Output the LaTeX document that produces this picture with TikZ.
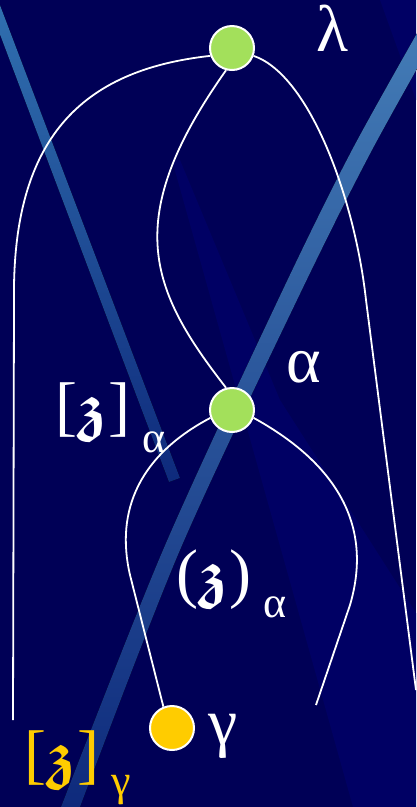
\documentclass[tikz,border=0pt]{standalone}
\usepackage{fontspec}
\setmainfont{Liberation Serif}
\DeclareFontFamily{U}{euf}{}
\DeclareFontShape{U}{euf}{b}{n}{<->eufb10}{}
\newcommand{\frakz}{{\usefont{U}{euf}{b}{n}z}}
\definecolor{bgnavy}{HTML}{000056}
\definecolor{bandnavy}{HTML}{000064}
\definecolor{streaktop}{HTML}{3070B0}
\definecolor{streakbot}{HTML}{0E2A7C}
\definecolor{vertgreen}{HTML}{A3E05B}
\definecolor{vertgold}{HTML}{FFCC00}
\tikzset{
	vertex/.style={circle, draw=white, line width=2pt, inner sep=0pt, minimum size=44pt},
	strand/.style={white, line width=1.8pt},
	biglbl/.style={text=white, inner sep=0pt, font=\fontsize{66}{70}\selectfont},
	sublbl/.style={text=white, inner sep=0pt, font=\fontsize{44}{48}\selectfont},
}
\begin{document}
\begin{tikzpicture}[x=1pt, y=-1pt]
	\useasboundingbox (0, 0) rectangle (416, 807);
	\fill[bgnavy] (0, 0) rectangle (416, 807);
	\fill[bandnavy] (172, 160) -- (180, 160) -- (280, 400) -- (416, 613) -- (416, 807) -- (353, 807) -- cycle;
	\fill[bandnavy] (380, 0) -- (416, 0) -- (416, 100) -- cycle;
	\fill[top color=streaktop, bottom color=streakbot] (-13, 0) -- (-2, 0) -- (180, 478) -- (169, 482) -- cycle;
	\fill[top color=streaktop!90!white, bottom color=streakbot]
		plot[smooth] coordinates {(436, 0) (352, 150) (278, 300) (163, 550) (61, 807)}
		-- plot[smooth] coordinates {(80, 807) (180, 550) (297, 300) (372, 150) (456, 0)} -- cycle;
	
	\node[vertex, fill=vertgreen] (lam) at (232, 48) {};
	\node[vertex, fill=vertgreen] (alp) at (232, 410) {};
	\node[vertex, fill=vertgold] (gam) at (172, 728) {};
	
	\coordinate (lend) at (13, 720);
	\coordinate (rend) at (416, 690);
	\coordinate (aend) at (316, 705);
	
	\draw[strand] (lam.200) .. controls (80, 70) and (12, 140) .. (14, 300) -- (lend);
	\draw[strand] (lam.255) .. controls (120, 220) and (150, 290) .. (alp.105);
	\draw[strand] (lam.340) .. controls (310, 75) and (355, 200) .. (366, 300) -- (rend);
	\draw[strand] (alp.200) .. controls (140, 455) and (115, 510) .. (130, 575) -- (gam.112);
	\draw[strand] (alp.340) .. controls (330, 460) and (375, 520) .. (350, 605) -- (aend);
	
	\node[biglbl] (lamlbl) at (332, 28) {λ};
	\node[biglbl] (alplbl) at (304, 367) {α};
	\node[biglbl] (gamlbl) at (223, 736) {γ};
	\node[biglbl] (zalp) at (93, 412) {[\frakz]};
	\node[sublbl] (zalpsub) at (154, 442) {α};
	\node[biglbl] (zpar) at (214, 580) {(\frakz)};
	\node[sublbl] (zparsub) at (275, 607) {α};
	\node[biglbl, text=vertgold] (zgam) at (62, 760) {[\frakz]};
	\node[sublbl, text=vertgold] (zgamsub) at (121, 790) {γ};
\end{tikzpicture}
\end{document}
